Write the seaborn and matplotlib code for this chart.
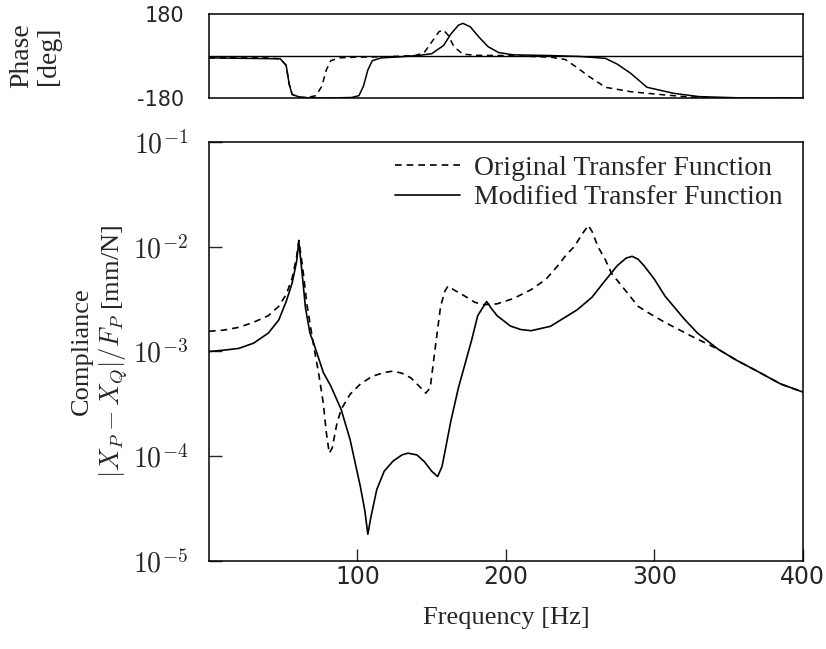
import numpy as np
import matplotlib
matplotlib.use("Agg")
import matplotlib.pyplot as plt
import seaborn as sns

# compliance curves (Hz, mm/N)
freq_orig = [0, 10, 20, 30, 40, 47, 52, 56, 59, 60.5, 63, 66, 70, 74, 77, 79, 81, 83, 86, 89,
             95, 102, 110, 118, 124, 130, 136, 142, 146, 149, 152, 156, 159, 161, 166, 172, 179,
             185, 194, 205, 217, 227, 235, 241, 246, 251, 255.5, 258, 262, 267, 271, 280, 289,
             298, 307, 325, 343, 355, 370, 385, 400]
comp_orig = [1.56e-3, 1.6e-3, 1.7e-3, 1.9e-3, 2.2e-3, 2.7e-3, 3.5e-3, 5.0e-3, 8.0e-3, 1.15e-2,
             6.5e-3, 2.8e-3, 1.25e-3, 6.0e-4, 3.2e-4, 1.7e-4, 1.07e-4, 1.2e-4, 2.0e-4, 2.8e-4,
             3.9e-4, 4.9e-4, 5.8e-4, 6.3e-4, 6.5e-4, 6.2e-4, 5.6e-4, 4.6e-4, 4.0e-4, 4.5e-4,
             9.8e-4, 2.7e-3, 3.8e-3, 4.2e-3, 3.8e-3, 3.4e-3, 2.95e-3, 2.8e-3, 2.85e-3, 3.2e-3,
             3.9e-3, 4.9e-3, 6.6e-3, 8.5e-3, 1.0e-2, 1.3e-2, 1.6e-2, 1.4e-2, 1.0e-2, 7.5e-3,
             5.6e-3, 3.9e-3, 2.7e-3, 2.25e-3, 1.9e-3, 1.4e-3, 1.05e-3, 8.3e-4, 6.4e-4, 4.9e-4,
             4.1e-4]

freq_mod = [0, 10, 20, 30, 40, 47, 52, 56, 59, 60.5, 62.5, 65, 68, 70, 74, 77, 82, 89, 95, 102,
            105, 107, 109, 113, 118, 124, 130, 134, 140, 145, 150, 154, 157, 163, 168, 172, 177,
            181, 187, 190, 194, 203, 210, 217, 230, 248, 258, 266, 275, 281, 285, 289, 293, 300,
            307, 320, 329, 343, 355, 370, 385, 400]
comp_mod = [1.0e-3, 1.03e-3, 1.07e-3, 1.2e-3, 1.5e-3, 2.0e-3, 3.0e-3, 4.5e-3, 7.2e-3, 1.12e-2,
            6.0e-3, 2.6e-3, 1.5e-3, 1.26e-3, 8.5e-4, 6.3e-4, 4.7e-4, 2.8e-4, 1.45e-4, 5.1e-5,
            3.0e-5, 1.8e-5, 2.6e-5, 4.8e-5, 7.2e-5, 9.0e-5, 1.03e-4, 1.07e-4, 1.03e-4, 8.9e-5,
            7.2e-5, 6.4e-5, 8.0e-5, 2.2e-4, 4.5e-4, 7.2e-4, 1.3e-3, 2.2e-3, 3.0e-3, 2.6e-3,
            2.2e-3, 1.75e-3, 1.62e-3, 1.58e-3, 1.74e-3, 2.5e-3, 3.3e-3, 4.6e-3, 6.6e-3, 7.8e-3,
            8.1e-3, 7.6e-3, 6.6e-3, 4.9e-3, 3.4e-3, 2.05e-3, 1.5e-3, 1.05e-3, 8.3e-4, 6.4e-4,
            4.9e-4, 4.1e-4]

# phase curves (Hz, deg)
pfreq_orig = [0, 40, 48, 52, 54, 56, 60, 66, 72, 76, 79, 82, 88, 100, 120, 139, 145, 150, 155,
              158, 161, 165, 171, 180, 200, 230, 240, 248, 256, 267, 284, 302, 320, 340, 400]
phase_orig = [-8, -8, -12, -40, -120, -165, -175, -178, -170, -130, -60, -20, -8, -5, -3, 2, 15,
              60, 105, 111, 90, 40, 8, 3, 2, -5, -15, -50, -88, -134, -153, -164, -174, -180, -180]

pfreq_mod = [0, 48, 52, 54, 56, 62, 80, 96, 101, 104, 107, 110, 116, 130, 142, 150, 158, 163,
             168, 171, 176, 182, 188, 195, 205, 230, 250, 267, 275, 284, 295, 313, 330, 360, 400]
phase_mod = [-8, -12, -40, -120, -165, -178, -180, -178, -170, -130, -60, -20, -8, -3, 3, 10, 45,
             95, 132, 140, 125, 80, 40, 15, 5, 2, -2, -10, -35, -74, -134, -160, -174, -180, -180]

sns.set_style("ticks")
plt.rcParams['font.family'] = ['Liberation Serif', 'DejaVu Serif']
plt.rcParams['mathtext.fontset'] = 'cm'

fig = plt.figure(figsize=(8.26, 6.49), dpi=100)
ax_ph = fig.add_axes([0.253, 0.849, 0.719, 0.1294])
ax = fig.add_axes([0.253, 0.1356, 0.719, 0.6456])

dash = (0, (4, 3))

# phase panel
ax_ph.axhline(0, color='black', lw=1.0)
sns.lineplot(x=pfreq_orig, y=phase_orig, ax=ax_ph, color='black', lw=1.1, linestyle=dash)
sns.lineplot(x=pfreq_mod, y=phase_mod, ax=ax_ph, color='black', lw=1.1)
ax_ph.set_xlim(0, 400)
ax_ph.set_ylim(-180, 180)
ax_ph.set_xticks([])
ax_ph.set_yticks([-180, 180])
ax_ph.set_yticklabels(['-180', '180'])
ax_ph.tick_params(axis='y', length=0, pad=18, labelsize=15, labelfontfamily='DejaVu Sans')
ax_ph.set_ylabel('Phase\n[deg]', fontsize=20, linespacing=1.05)
ax_ph.yaxis.set_label_coords(-0.25, 0.5)

# compliance panel
sns.lineplot(x=freq_orig, y=comp_orig, ax=ax, color='black', lw=1.2, linestyle=dash,
             label='Original Transfer Function')
sns.lineplot(x=freq_mod, y=comp_mod, ax=ax, color='black', lw=1.2,
             label='Modified Transfer Function')
ax.set_yscale('log')
ax.set_xlim(0, 400)
ax.set_ylim(1e-5, 1e-1)
ax.set_xticks([100, 200, 300, 400])
ax.set_xticklabels(['100', '200', '300', '400'])
decades = [1e-5, 1e-4, 1e-3, 1e-2, 1e-1]
ax.set_yticks(decades)
ax.set_yticklabels([r'$\mathsf{10}^{\mathsf{-%d}}$' % k for k in [5, 4, 3, 2, 1]])
ax.minorticks_off()
ax.tick_params(axis='both', direction='in', length=9, width=1.0)
ax.tick_params(axis='x', pad=3, labelsize=17, labelfontfamily='DejaVu Sans')
ax.tick_params(axis='y', pad=15, labelsize=20)
ax.set_xlabel('Frequency [Hz]', fontsize=19, va='top')
ax.xaxis.set_label_coords(0.5, -0.11)
ax.set_ylabel('Compliance\n$|X_P - X_Q|/F_P$ [mm/N]', fontsize=19, linespacing=1.2)
ax.yaxis.set_label_coords(-0.133, 0.5)

leg = ax.legend(loc='upper right', bbox_to_anchor=(0.985, 0.995), frameon=False, fontsize=20,
                handlelength=2.35, handletextpad=0.5, borderaxespad=0.0, labelspacing=0.15)

for a in (ax, ax_ph):
    for s in a.spines.values():
        s.set_linewidth(1.1)
        s.set_color('black')

fig.savefig('out.png', dpi=100)
